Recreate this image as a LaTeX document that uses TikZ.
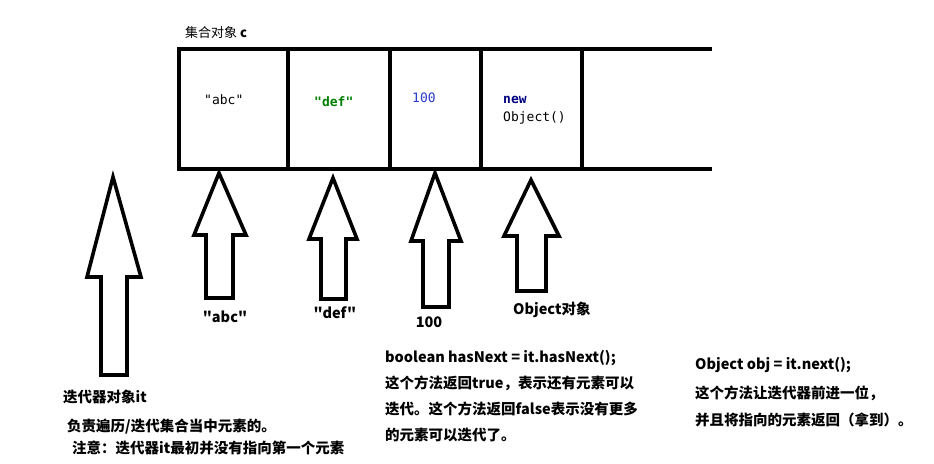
\documentclass[tikz,border=0pt]{standalone}
\usepackage{fontspec}
\setmainfont{Noto Sans CJK SC}[Ligatures=TeXOff]
\newfontfamily\codefont{DejaVu Sans Mono}[Ligatures=TeXOff]
\definecolor{strgreen}{RGB}{0,128,0}
\definecolor{numblue}{RGB}{40,60,200}
\definecolor{kwnavy}{RGB}{0,0,128}
\begin{document}
\begin{tikzpicture}[x=1pt,y=-1pt,
  frame/.style={line width=4pt},
  blockarr/.style={line width=3.6pt,line join=miter,draw=black,fill=white},
  code/.style={inner sep=0pt,font=\codefont\fontsize{13}{15}\selectfont},
  lbl/.style={inner sep=0pt,anchor=west,font=\bfseries\fontsize{14.5}{17}\selectfont},
  alab/.style={inner sep=0pt,font=\bfseries\fontsize{14.5}{17}\selectfont}]
\useasboundingbox (0,0) rectangle (934,463);
% collection frame
\draw[frame] (712,49) -- (179,49) -- (179,169) -- (712,169);
\foreach \xx in {288,390,481,582} \draw[frame] (\xx,49) -- (\xx,169);
\node[inner sep=0pt,anchor=west,font=\fontsize{13}{15}\selectfont] (title) at (185,33) {集合对象 \textbf{c}};
% cell contents
\node[code,anchor=west] (vabc) at (204,100) {"abc"};
\node[code,anchor=west,text=strgreen,font=\codefont\bfseries\fontsize{13}{15}\selectfont] (vdef) at (314,102) {"def"};
\node[code,anchor=west,text=numblue] (v100) at (412,98) {100};
\node[code,anchor=west,text=kwnavy,font=\codefont\bfseries\fontsize{13}{15}\selectfont] (vnew) at (503,100) {new};
\node[code,anchor=west] (vobj) at (503,118) {Object()};
% block arrows
\draw[blockarr] (113,177) -- (141,277) -- (127,277) -- (127,375) -- (101,375) -- (101,277) -- (87,277) -- cycle;
\draw[blockarr] (219,173) -- (246,235) -- (233,235) -- (233,298) -- (206,298) -- (206,235) -- (194,235) -- cycle;
\draw[blockarr] (333,178) -- (357,239) -- (346,239) -- (346,299) -- (321,299) -- (321,239) -- (309,239) -- cycle;
\draw[blockarr] (435,173) -- (461,241) -- (449,241) -- (449,307) -- (423,307) -- (423,241) -- (411,241) -- cycle;
\draw[blockarr] (531,180) -- (559,236) -- (546,236) -- (546,291) -- (517,291) -- (517,236) -- (504,236) -- cycle;
% arrow labels
\node[alab] (labc) at (225,317) {"abc"};
\node[alab] (ldef) at (335,313) {"def"};
\node[alab] (l100) at (429,322) {100};
\node[alab,anchor=west] (lobj) at (513,310) {Object对象};
% iterator text
\node[lbl] (it1) at (63,397) {迭代器对象it};
\node[lbl] (it2) at (67,427) {负责遍历/迭代集合当中元素的。};
\node[lbl] (it3) at (72,448) {注意：迭代器it最初并没有指向第一个元素};
% hasNext text
\node[lbl] (h1) at (385,358) {boolean hasNext = it.hasNext();};
\node[lbl] (h2) at (385,383) {这个方法返回true，表示还有元素可以};
\node[lbl] (h3) at (385,409) {迭代。这个方法返回false表示没有更多};
\node[lbl] (h4) at (385,435) {的元素可以迭代了。};
% next text
\node[lbl] (n1) at (695,365) {Object obj = it.next();};
\node[lbl] (n2) at (695,393) {这个方法让迭代器前进一位，};
\node[lbl] (n3) at (695,420) {并且将指向的元素返回（拿到）。};
\end{tikzpicture}
\end{document}
